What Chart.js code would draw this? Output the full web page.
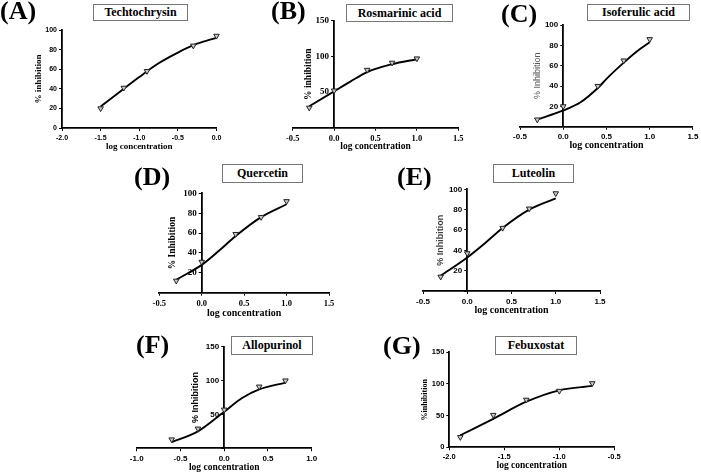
<!DOCTYPE html>
<html>
<head>
<meta charset="utf-8">
<script src="https://cdn.jsdelivr.net/npm/chart.js@4.4.1/dist/chart.umd.min.js"></script>
<style>
  html, body { margin: 0; padding: 0; background: #fff; }
  #wrap { position: relative; width: 701px; height: 475px; overflow: hidden; background: #fff; }
  canvas { position: absolute; left: 0; top: 0; }
  .plabel { position: absolute; font-family: "Liberation Serif", "Times New Roman", serif; font-weight: bold; font-size: 26px; line-height: 26px; color: #000; white-space: nowrap; }
  .tbox { position: absolute; box-sizing: border-box; border: 1px solid #777; background: #fff; font-family: "Liberation Serif", "Times New Roman", serif; font-weight: bold; font-size: 12px; color: #000; display: flex; align-items: center; justify-content: center; white-space: nowrap; }
</style>
</head>
<body>
<div id="wrap"></div>
<script>
// ---------- DATA ----------
const titles = ['Techtochrysin', 'Rosmarinic acid', 'Isoferulic acid', 'Quercetin', 'Luteolin', 'Allopurinol', 'Febuxostat'];
const panelLetters = ['(A)', '(B)', '(C)', '(D)', '(E)', '(F)', '(G)'];
const xAxisTitle = 'log concentration';
const yAxisTitles = ['% inhibition', '% inhibition', '% Inhibition', '% Inhibition', '% Inhibition', '% Inhibition', '%inhibition'];

// measured points
const xA = [-1.5, -1.2, -0.9, -0.3, 0.0];
const yA = [20, 41, 58, 84, 94];
const xB = [-0.3, 0.0, 0.4, 0.7, 1.0];
const yB = [28, 52, 81, 91, 97];
const xC = [-0.3, 0.0, 0.4, 0.7, 1.0];
const yC = [7, 20, 40, 65, 86];
const xD = [-0.3, 0.0, 0.4, 0.7, 1.0];
const yD = [12, 31, 59, 76, 92];
const xE = [-0.3, 0.0, 0.4, 0.7, 1.0];
const yE = [14, 37, 62, 81, 96];
const xF = [-0.6, -0.3, 0.0, 0.4, 0.7];
const yF = [13, 29, 57, 91, 100];
const xG = [-1.9, -1.6, -1.3, -1.0, -0.7];
const yG = [16, 51, 75, 89, 101];

// fitted curves
const fitXA = [-1.5, -1.25, -1.0, -0.75, -0.5, -0.25, 0.0];
const fitYA = [22, 37, 52, 66, 77, 86, 92];
const fitXB = [-0.3, 0.0, 0.2, 0.4, 0.7, 1.0];
const fitYB = [30, 51, 65, 78, 89, 96];
const fitXC = [-0.3, 0.0, 0.2, 0.4, 0.5, 0.7, 0.85, 1.0];
const fitYC = [7, 16, 24, 38, 47, 63, 74, 83];
const fitXD = [-0.3, 0.0, 0.2, 0.4, 0.7, 1.0];
const fitYD = [13, 28, 42, 57, 76, 89];
const fitXE = [-0.3, 0.0, 0.2, 0.4, 0.7, 1.0];
const fitYE = [15, 33, 47, 62, 80, 91];
const fitXF = [-0.6, -0.3, 0.0, 0.2, 0.4, 0.7];
const fitYF = [9, 25, 54, 74, 87, 97];
const fitXG = [-1.9, -1.6, -1.3, -1.0, -0.7];
const fitYG = [19, 45, 72, 90, 97];

// axis ranges [min, max, step]; y axis crosses x at yCross
const xRangeA = [-2.0, 0.0, 0.5], yRangeA = [0, 100, 20], yCrossA = -2.0;
const xRangeB = [-0.5, 1.5, 0.5], yRangeB = [0, 150, 50], yCrossB = 0;
const xRangeC = [-0.5, 1.5, 0.5], yRangeC = [0, 100, 20], yCrossC = 0;
const xRangeD = [-0.5, 1.5, 0.5], yRangeD = [0, 100, 20], yCrossD = 0;
const xRangeE = [-0.5, 1.5, 0.5], yRangeE = [0, 100, 20], yCrossE = 0;
const xRangeF = [-1.0, 1.0, 0.5], yRangeF = [0, 150, 50], yCrossF = 0;
const xRangeG = [-2.0, -0.5, 0.5], yRangeG = [0, 150, 50], yCrossG = -2.0;

// ---------- LAYOUT / STYLE ----------
const SERIF = '"Liberation Serif", "Times New Roman", serif';
const SANS = '"Liberation Sans", Arial, sans-serif';
const W = 701, H = 475;

const panels = [
  { x: xA, y: yA, fx: fitXA, fy: fitYA, xr: xRangeA, yr: yRangeA, yc: yCrossA, hide0: false,
    area: {l: 62, r: 216.5, t: 30, b: 128}, xTitleY: 146.5,
    tickX: {family: SANS, size: 7, weight: 'bold'}, tickY: {family: SANS, size: 7, weight: 'bold'},
    xTitleFont: {family: SERIF, size: 9, weight: 'bold'},
    yT: {x: 39, font: {family: SERIF, size: 9, weight: 'bold'}, color: '#000'},
    lab: {x: 0, y: -2}, box: {x: 93, y: 4, w: 95, h: 17} },
  { x: xB, y: yB, fx: fitXB, fy: fitYB, xr: xRangeB, yr: yRangeB, yc: yCrossB, hide0: true,
    area: {l: 292.7, r: 458.3, t: 20.7, b: 127.7}, xTitleY: 146.5,
    tickX: {family: SERIF, size: 8.5, weight: 'bold'}, tickY: {family: SERIF, size: 9, weight: 'bold'},
    xTitleFont: {family: SERIF, size: 9.5, weight: 'bold'},
    yT: {x: 309, font: {family: SERIF, size: 9.5, weight: 'bold'}, color: '#000'},
    lab: {x: 271, y: -2}, box: {x: 346, y: 4, w: 107, h: 18} },
  { x: xC, y: yC, fx: fitXC, fy: fitYC, xr: xRangeC, yr: yRangeC, yc: yCrossC, hide0: true,
    area: {l: 520, r: 693, t: 25, b: 126.7}, xTitleY: 145.7,
    tickX: {family: SANS, size: 8, weight: 'bold'}, tickY: {family: SANS, size: 8, weight: 'bold'},
    xTitleFont: {family: SERIF, size: 10, weight: 'bold'},
    yT: {x: 537.5, font: {family: SANS, size: 9, weight: 'normal'}, color: '#555'},
    lab: {x: 501, y: 1}, box: {x: 587, y: 4, w: 103, h: 17} },
  { x: xD, y: yD, fx: fitXD, fy: fitYD, xr: xRangeD, yr: yRangeD, yc: yCrossD, hide0: true,
    area: {l: 159.3, r: 329, t: 193.3, b: 292.7}, xTitleY: 313.3,
    tickX: {family: SERIF, size: 8.5, weight: 'bold'}, tickY: {family: SERIF, size: 9, weight: 'bold'},
    xTitleFont: {family: SERIF, size: 10, weight: 'bold'},
    yT: {x: 172.5, font: {family: SERIF, size: 9.5, weight: 'bold'}, color: '#000'},
    lab: {x: 134, y: 164}, box: {x: 222, y: 164, w: 81, h: 19} },
  { x: xE, y: yE, fx: fitXE, fy: fitYE, xr: xRangeE, yr: yRangeE, yc: yCrossE, hide0: true,
    area: {l: 423, r: 600, t: 189.3, b: 291}, xTitleY: 310.7,
    tickX: {family: SANS, size: 8, weight: 'bold'}, tickY: {family: SANS, size: 8, weight: 'bold'},
    xTitleFont: {family: SERIF, size: 10, weight: 'bold'},
    yT: {x: 440.7, font: {family: SANS, size: 9, weight: 'bold'}, color: '#444'},
    lab: {x: 397, y: 164}, box: {x: 493, y: 164, w: 81, h: 19} },
  { x: xF, y: yF, fx: fitXF, fy: fitYF, xr: xRangeF, yr: yRangeF, yc: yCrossF, hide0: true,
    area: {l: 136.7, r: 311.7, t: 346.7, b: 448.3}, xTitleY: 467.5,
    tickX: {family: SANS, size: 8, weight: 'bold'}, tickY: {family: SANS, size: 8, weight: 'bold'},
    xTitleFont: {family: SERIF, size: 9.5, weight: 'bold'},
    yT: {x: 196, font: {family: SANS, size: 9, weight: 'bold'}, color: '#000'},
    lab: {x: 136, y: 332}, box: {x: 231, y: 336, w: 82, h: 19} },
  { x: xG, y: yG, fx: fitXG, fy: fitYG, xr: xRangeG, yr: yRangeG, yc: yCrossG, hide0: false,
    area: {l: 449.3, r: 614.3, t: 352.3, b: 447.3}, xTitleY: 466,
    tickX: {family: SANS, size: 7.5, weight: 'bold'}, tickY: {family: SANS, size: 7.5, weight: 'bold'},
    xTitleFont: {family: SERIF, size: 9.5, weight: 'bold'},
    yT: {x: 425, font: {family: SERIF, size: 8, weight: 'bold'}, color: '#000'},
    lab: {x: 383, y: 333}, box: {x: 495, y: 336, w: 82, h: 19} }
];

const wrap = document.getElementById('wrap');
function fmtX(v) { return Math.abs(v) < 1e-9 ? '0.0' : Number(v).toFixed(1); }
function newCanvas() {
  const cv = document.createElement('canvas');
  cv.width = W; cv.height = H;
  cv.style.width = W + 'px'; cv.style.height = H + 'px';
  wrap.appendChild(cv);
  return cv;
}

panels.forEach((p, i) => {
  const a = p.area;
  const xTitleLH = p.xTitleFont.size * 1.2;
  const xAxisH = (p.xTitleY - a.b) + xTitleLH / 2;
  const pts = p.x.map((v, k) => ({x: v, y: p.y[k]}));
  const fit = p.fx.map((v, k) => ({x: v, y: p.fy[k]}));

  // --- y axis chart: its plot area starts where the y axis crosses the x axis
  const px = a.l + (p.yc - p.xr[0]) / (p.xr[1] - p.xr[0]) * (a.r - a.l);
  const yTitleLH = p.yT.font.size * 1.2;
  const yAxisW = px - p.yT.x + yTitleLH / 2;
  new Chart(newCanvas(), {
    type: 'scatter',
    data: { datasets: [{ data: [] }] },
    options: {
      responsive: false, animation: false, devicePixelRatio: 1, events: [],
      layout: { padding: { left: px - yAxisW, top: a.t, right: W - a.r, bottom: H - a.b } },
      plugins: { legend: { display: false }, tooltip: { enabled: false } },
      scales: {
        x: { type: 'linear', display: false, min: p.yc, max: p.xr[1] },
        y: {
          type: 'linear', position: 'left', min: p.yr[0], max: p.yr[1],
          ticks: { stepSize: p.yr[2], color: '#000', font: p.tickY, padding: 2,
                   callback: (v) => (p.hide0 && v === 0) ? '' : String(v) },
          grid: { drawOnChartArea: false, tickLength: 3, color: '#000', lineWidth: 1 },
          border: { color: '#000', width: 1.8 },
          title: { display: true, text: yAxisTitles[i], color: p.yT.color, font: p.yT.font, padding: 0 },
          afterFit: (s) => { s.width = yAxisW; }
        }
      }
    }
  });

  // --- data chart with the x axis
  new Chart(newCanvas(), {
    type: 'scatter',
    data: {
      datasets: [
        { type: 'line', data: fit, borderColor: '#000', borderWidth: 1.9, pointRadius: 0,
          cubicInterpolationMode: 'monotone', fill: false, clip: false, order: 2 },
        { type: 'scatter', data: pts, pointStyle: 'triangle', rotation: 180, pointRadius: 3.2,
          backgroundColor: '#c8c8c8', borderColor: '#222', borderWidth: 1, clip: false, order: 1 }
      ]
    },
    options: {
      responsive: false, animation: false, devicePixelRatio: 1, events: [],
      layout: { padding: { left: a.l, top: a.t, right: W - a.r, bottom: H - a.b - xAxisH } },
      plugins: { legend: { display: false }, tooltip: { enabled: false } },
      scales: {
        x: {
          type: 'linear', position: 'bottom', min: p.xr[0], max: p.xr[1],
          ticks: { stepSize: p.xr[2], color: '#000', font: p.tickX, padding: 2.5, maxRotation: 0, autoSkip: false,
                   callback: fmtX },
          grid: { drawOnChartArea: false, tickLength: 3, color: '#000', lineWidth: 1 },
          border: { color: '#000', width: 1.8 },
          title: { display: true, text: xAxisTitle, color: '#000', font: p.xTitleFont, padding: 0 },
          afterFit: (s) => { s.height = xAxisH; }
        },
        y: { type: 'linear', display: false, min: p.yr[0], max: p.yr[1] }
      }
    }
  });

  const lab = document.createElement('div');
  lab.className = 'plabel';
  lab.style.left = p.lab.x + 'px'; lab.style.top = p.lab.y + 'px';
  lab.textContent = panelLetters[i];
  wrap.appendChild(lab);

  const bx = document.createElement('div');
  bx.className = 'tbox';
  bx.style.left = p.box.x + 'px'; bx.style.top = p.box.y + 'px';
  bx.style.width = p.box.w + 'px'; bx.style.height = p.box.h + 'px';
  bx.textContent = titles[i];
  wrap.appendChild(bx);
});
</script>
</body>
</html>
